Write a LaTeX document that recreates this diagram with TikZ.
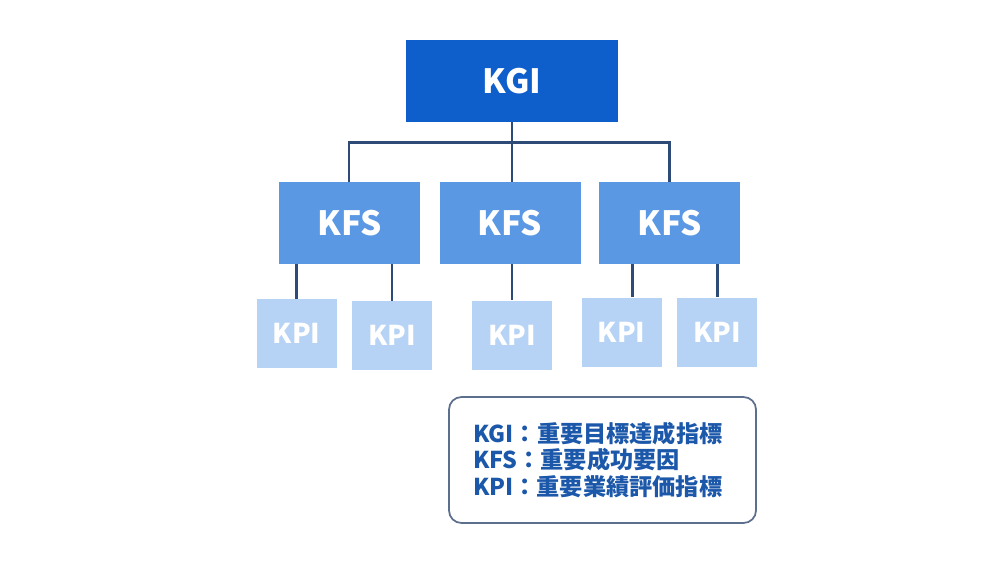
\documentclass[tikz,border=0pt]{standalone}
\usepackage{fontspec}
\setmainfont{Noto Sans CJK JP}
\usepackage{tikz}
\usetikzlibrary{positioning, calc}
\definecolor{kgiblue}{RGB}{14,94,204}
\definecolor{kfsblue}{RGB}{90,152,228}
\definecolor{kpiblue}{RGB}{182,211,246}
\definecolor{linkdark}{RGB}{46,74,118}
\definecolor{legendtext}{RGB}{28,88,170}
\definecolor{legendframe}{RGB}{92,112,142}
\tikzset{
  goalbox/.style={rectangle, fill=kgiblue, text=white, minimum width=4.24cm,
    minimum height=1.64cm, font=\fontsize{19}{24}\selectfont\bfseries},
  factorbox/.style={rectangle, fill=kfsblue, text=white, minimum width=2.82cm,
    minimum height=1.64cm, font=\fontsize{19}{24}\selectfont\bfseries},
  kpibox/.style={rectangle, fill=kpiblue, text=white, minimum width=1.6cm,
    minimum height=1.38cm, font=\fontsize{15.5}{18}\selectfont\bfseries},
  link/.style={line width=1.7pt, color=linkdark}
}

\begin{document}
\begin{tikzpicture}[
  legend/.style={rectangle, rounded corners=0.25cm, draw=legendframe, line width=1pt,
    fill=white, text=legendtext, align=left, text width=5.18cm, minimum width=6.14cm,
    minimum height=2.52cm, inner xsep=0.48cm, font=\fontsize{13.2}{15}\selectfont\bfseries}
]
\useasboundingbox (0,0) rectangle (20,-11.26);
\node[goalbox] (KGI) at (10.24,-1.62) {KGI};
\foreach \i/\x/\s in {1/6.99/-0.01, 2/10.2/0.04, 3/13.39/-0.01} {
  \node[factorbox] (KFS\i) at (\x,-4.46) {KFS};
  \coordinate (top\i) at ([xshift=\s cm]KFS\i.north);
}
\coordinate[below=0.4cm of KGI] (bus);
\foreach \i in {1,2,3} {
  \draw[link] (KGI.south) -- (bus) -| (top\i);
}
\foreach \j/\x/\y/\p/\s in {1/5.93/-6.67/1/0, 2/7.84/-6.71/1/0, 3/10.24/-6.70/2/0,
    4/12.43/-6.64/3/0.21, 5/14.34/-6.64/3/0} {
  \node[kpibox] (KPI\j) at (\x,\y) {KPI};
  \draw[link] ([xshift=\s cm]KPI\j.north) -- ([xshift=\s cm]KPI\j.north |- KFS\p.south);
}
\node[legend] (key) at (12.05,-9.2) {KGI：重要目標達成指標\\KFS：重要成功要因\\KPI：重要業績評価指標};
\end{tikzpicture}
\end{document}
